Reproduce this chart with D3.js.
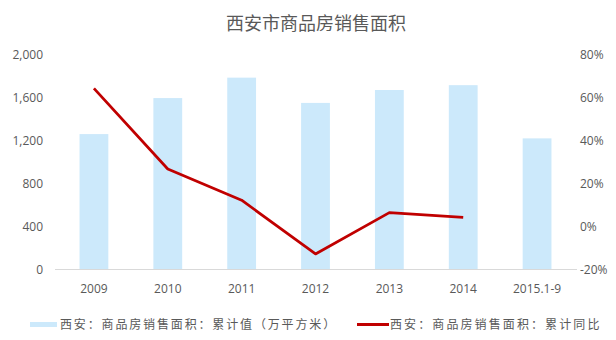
<!DOCTYPE html>
<html><head><meta charset="utf-8">
<script src="https://cdn.jsdelivr.net/npm/d3@7/dist/d3.min.js"></script>
<style>
body{margin:0;background:#fff;}
text{font-family:"Open Sans","Noto Sans CJK SC",sans-serif;}
</style></head>
<body><svg id="c" width="616" height="340"></svg>
<script>
const categories = ["2009","2010","2011","2012","2013","2014","2015.1-9"];
const areaValues = [1255, 1590, 1780, 1545, 1665, 1710, 1215];
const yoyValues = [64, 26.5, 12, -13, 6.2, 4.0];
const leftTicks = [0,400,800,1200,1600,2000];
const rightTicks = [-20,0,20,40,60,80];
const title = "西安市商品房销售面积";
const legendBar = "西安：商品房销售面积：累计值（万平方米）";
const legendLine = "西安：商品房销售面积：累计同比";

const svg = d3.select("#c");
const m = {l:57, r:42, t:54, b:71};
const W = 616, H = 340;
const x = d3.scaleBand().domain(categories).range([m.l, W - m.r]).paddingInner(0.61).paddingOuter(0.305);
const yL = d3.scaleLinear().domain([0,2000]).range([H - m.b, m.t]);
const yR = d3.scaleLinear().domain([-20,80]).range([H - m.b, m.t]);
const txt = "#595959";

svg.append("text").attr("x", 316).attr("y", 30).attr("text-anchor","middle")
  .attr("font-size", 18).attr("fill", txt).attr("font-family","Noto Sans CJK SC").text(title);

svg.selectAll("rect.bar").data(areaValues).join("rect").attr("class","bar")
  .attr("x", (d,i)=>x(categories[i])).attr("width", x.bandwidth())
  .attr("y", d=>yL(d)).attr("height", d=>yL(0)-yL(d)).attr("fill","#cce9fb");

svg.append("line").attr("x1", m.l-2).attr("x2", W - m.r + 3)
  .attr("y1", yL(0)+0.5).attr("y2", yL(0)+0.5).attr("stroke","#d9d9d9");

const line = d3.line().x((d,i)=>x(categories[i]) + x.bandwidth()/2).y(d=>yR(d));
svg.append("path").datum(yoyValues).attr("d", line).attr("fill","none")
  .attr("stroke","#c00000").attr("stroke-width",2.75).attr("stroke-linejoin","round");

const axL = svg.append("g").attr("transform", `translate(${m.l-14},0)`)
  .call(d3.axisLeft(yL).tickValues(leftTicks).tickFormat(d3.format(",")).tickSize(0).tickPadding(0));
axL.select(".domain").remove();
axL.selectAll("text").attr("font-size",12).attr("fill",txt).attr("dy","0.35em");

const axR = svg.append("g").attr("transform", `translate(580,0)`)
  .call(d3.axisRight(yR).tickValues(rightTicks).tickFormat(d=>d+"%").tickSize(0).tickPadding(0));
axR.select(".domain").remove();
axR.selectAll("text").attr("font-size",12).attr("fill",txt).attr("dy","0.35em");

const axB = svg.append("g").attr("transform", `translate(0,${H - m.b + 13})`)
  .call(d3.axisBottom(x).tickSize(0).tickPadding(0));
axB.select(".domain").remove();
axB.selectAll("text").attr("font-size",12).attr("fill",txt).attr("dy","0.9em");

const lg = svg.append("g");
lg.append("rect").attr("x",30).attr("y",322).attr("width",27).attr("height",5).attr("fill","#cce9fb");
lg.append("text").attr("x",60).attr("y",329).attr("font-size",12).attr("letter-spacing",1.85)
  .attr("font-family","Noto Sans CJK SC").attr("fill",txt).text(legendBar);
lg.append("line").attr("x1",357).attr("x2",389).attr("y1",324.5).attr("y2",324.5).attr("stroke","#c00000").attr("stroke-width",3);
lg.append("text").attr("x",390).attr("y",329).attr("font-size",12).attr("letter-spacing",2.1)
  .attr("font-family","Noto Sans CJK SC").attr("fill",txt).text(legendLine);
</script></body></html>
